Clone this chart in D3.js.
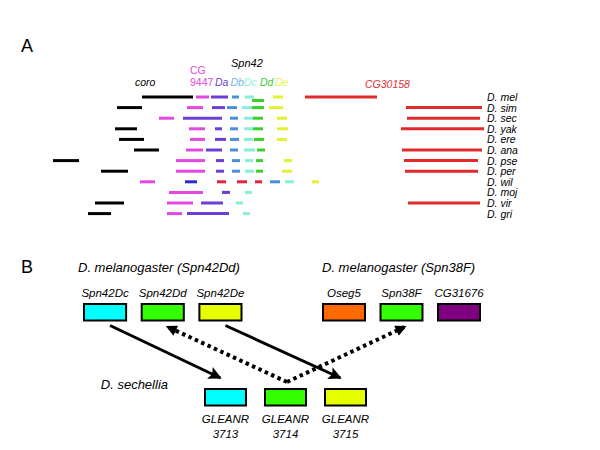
<!DOCTYPE html>
<html>
<head>
<meta charset="utf-8">
<script src="https://cdn.jsdelivr.net/npm/d3@7/dist/d3.min.js"></script>
<style>
  body { margin: 0; background: #fff; }
  text { font-family: "Liberation Sans", Arial, sans-serif; }
</style>
</head>
<body>
<div id="chart"></div>
<script>
// ---- Panel A data: gene segments per species, [species, start, end] in alignment units
const species = ["mel", "sim", "sec", "yak", "ere", "ana", "pse", "per", "wil", "moj", "vir", "gri"];

const coro = [["mel",102,153],["sim",77,102],["yak",75,97],["ere",79,104],["ana",94,119],
  ["pse",13,39],["per",61,88],["vir",55,84],["gri",48,71]];
const cg9447 = [["mel",156,169],["sim",147,163],["sec",119,134],["yak",149,165],["ere",150,165],
  ["ana",146,163],["pse",136,165],["per",136,165],["wil",100,115],["moj",129,163],["vir",127,153],["gri",127,142]];
const spn42Da = [["mel",171,188],["sim",172,185],["sec",143,182],["yak",175,182],["ere",175,186],
  ["ana",166,182],["pse",176,184],["per",176,184],["moj",182,190],["vir",161,183],["gri",147,189]];
const spn42Db = [["mel",192,199],["sim",187,197],["sec",190,198],["yak",190,198],["ere",190,199],
  ["ana",190,198],["pse",192,200],["per",192,200],["wil",230,240]];
const spn42Dc = [["mel",205,214],["sim",202,212],["sec",204,213],["yak",204,213],["ere",204,213],
  ["ana",204,215],["pse",205,213],["per",205,214],["wil",245,254],["moj",205,212],["vir",196,203],["gri",203,210]];
const spn42Dd = [["mel",212,224],["sim",212,224],["sec",213,223],["yak",213,223],["ere",214,224],
  ["ana",217,225],["pse",216,223],["per",216,223]];
const spn42De = [["mel",233,243],["sim",229,243],["sec",237,247],["yak",237,248],["ere",237,247],
  ["pse",244,252],["per",242,252],["wil",272,279]];
const cg30158 = [["mel",265,337],["sim",366,442],["sec",367,440],["yak",361,444],["ana",362,442],
  ["pse",364,438],["per",365,438],["vir",368,440]];
const wilDa = [["wil",145,157]];
const wilOther = [["wil",177,186],["wil",197,207],["wil",215,222]];

const geneColor = {
  coro: "#000000", cg9447: "#e448e0", spn42Da: "#6b3fd6", spn42Db: "#4b8fdc",
  spn42Dc: "#86efd9", spn42Dd: "#3ccf2c", spn42De: "#e6f032", cg30158: "#e12a2a",
  wilDa: "#2b2bc8", wilOther: "#e0243e"
};
const genes = { coro, cg9447, spn42Da, spn42Db, spn42Dc, spn42Dd, spn42De, cg30158, wilDa, wilOther };

// ---- Panel B data
const melSpn42 = ["Spn42Dc", "Spn42Dd", "Spn42De"];
const melSpn38 = ["Oseg5", "Spn38F", "CG31676"];
const secGenes = ["GLEANR 3713", "GLEANR 3714", "GLEANR 3715"];
const boxFill = {
  "Spn42Dc": "#00ffff", "Spn42Dd": "#33ff00", "Spn42De": "#e6ff00",
  "Oseg5": "#ff6a00", "Spn38F": "#33ff00", "CG31676": "#7f007f",
  "GLEANR 3713": "#00ffff", "GLEANR 3714": "#33ff00", "GLEANR 3715": "#e6ff00"
};
const links = [
  ["Spn42Dc", "GLEANR 3713", "solid"],
  ["Spn42De", "GLEANR 3715", "solid"],
  ["GLEANR 3714", "Spn42Dd", "dotted"],
  ["GLEANR 3714", "Spn38F", "dotted"]
];

const svg = d3.select("#chart").append("svg")
  .attr("width", 600).attr("height", 450);

// ---------------- Panel A ----------------
const x = d3.scaleLinear().domain([0, 460]).range([40, 500]);
const y = d3.scalePoint().domain(species).range([97, 213.6]);

svg.append("text").attr("x", 21).attr("y", 52).attr("font-size", 18).text("A");

// flatten segments, push overlapping ones to a second lane
let segs = [];
Object.keys(genes).forEach(g => genes[g].forEach(d => segs.push({ gene: g, sp: d[0], x0: d[1], x1: d[2] })));
const lastEnd = {};
segs.sort((a, b) => a.x0 - b.x0).forEach(s => {
  s.lane = (lastEnd[s.sp] !== undefined && lastEnd[s.sp] - s.x0 > 1) ? 1 : 0;
  lastEnd[s.sp] = Math.max(lastEnd[s.sp] || -Infinity, s.x1);
});

svg.append("g").selectAll("line")
  .data(segs)
  .enter().append("line")
  .attr("x1", d => x(d.x0))
  .attr("x2", d => x(d.x1))
  .attr("y1", d => y(d.sp) + d.lane * 3.5)
  .attr("y2", d => y(d.sp) + d.lane * 3.5)
  .attr("stroke", d => geneColor[d.gene])
  .attr("stroke-width", 3);

svg.append("g").selectAll("text")
  .data(species)
  .enter().append("text")
  .attr("x", 487)
  .attr("y", d => y(d) + 4)
  .attr("font-size", 10.5)
  .attr("font-style", "italic")
  .text(d => "D. " + d);

// gene headers
const hdr = svg.append("g").attr("font-size", 10.5);
hdr.append("text").attr("x", 135).attr("y", 86).attr("font-style", "italic").text("coro");
hdr.append("text").attr("x", 231).attr("y", 67).attr("font-style", "italic").attr("font-size", 11).text("Spn42");
hdr.append("text").attr("x", 190).attr("y", 74).attr("fill", "#e448e0").text("CG");
hdr.append("text").attr("x", 190).attr("y", 86).attr("fill", "#e448e0").text("9447");
[["Da", 215, "#6b3fd6"], ["Db", 230.5, "#73b2ea"], ["Dc", 244, "#8ff0dc"], ["Dd", 260, "#3cc83c"], ["De", 275, "#e8f04a"]]
  .forEach(h => hdr.append("text").attr("x", h[1]).attr("y", 86).attr("font-style", "italic").attr("fill", h[2]).text(h[0]));
hdr.append("text").attr("x", 365).attr("y", 88).attr("font-style", "italic").attr("fill", "#e03030").text("CG30158");

// ---------------- Panel B ----------------
svg.append("text").attr("x", 21).attr("y", 273).attr("font-size", 18).text("B");

const bandL = d3.scaleBand().domain(melSpn42).range([84, 241.5]).paddingInner(0.27);
const bandR = d3.scaleBand().domain(melSpn38).range([323, 480]).paddingInner(0.27);
const bandS = d3.scaleBand().domain(secGenes).range([205, 366]).paddingInner(0.317);
const topY = 304, botY = 389, boxH = 16.5;

const boxes = [];
melSpn42.forEach(g => boxes.push({ name: g, x: bandL(g), w: bandL.bandwidth(), y: topY, row: "top" }));
melSpn38.forEach(g => boxes.push({ name: g, x: bandR(g), w: bandR.bandwidth(), y: topY, row: "top" }));
secGenes.forEach(g => boxes.push({ name: g, x: bandS(g), w: bandS.bandwidth(), y: botY, row: "bottom" }));
const boxBy = {};
boxes.forEach(b => boxBy[b.name] = b);

svg.append("text").attr("x", 78).attr("y", 272).attr("font-size", 13).attr("font-style", "italic")
  .text("D. melanogaster (Spn42Dd)");
svg.append("text").attr("x", 322).attr("y", 272).attr("font-size", 13).attr("font-style", "italic")
  .text("D. melanogaster (Spn38F)");
svg.append("text").attr("x", 168).attr("y", 389).attr("font-size", 13).attr("font-style", "italic")
  .attr("text-anchor", "end").text("D. sechellia");

svg.append("g").selectAll("rect")
  .data(boxes)
  .enter().append("rect")
  .attr("x", d => d.x).attr("y", d => d.y)
  .attr("width", d => d.w).attr("height", boxH)
  .attr("fill", d => boxFill[d.name])
  .attr("stroke", "#000").attr("stroke-width", 2);

// box labels
const lbl = svg.append("g").attr("font-size", 11.5).attr("font-style", "italic").attr("text-anchor", "middle");
boxes.filter(b => b.row === "top").forEach(b =>
  lbl.append("text").attr("x", b.x + b.w / 2).attr("y", 297).text(b.name));
boxes.filter(b => b.row === "bottom").forEach(b => {
  const parts = b.name.split(" ");
  lbl.append("text").attr("x", b.x + b.w / 2).attr("y", 423).text(parts[0]);
  lbl.append("text").attr("x", b.x + b.w / 2).attr("y", 438).text(parts[1]);
});

// arrowheads
const defs = svg.append("defs");
defs.append("marker").attr("id", "headSolid")
  .attr("viewBox", "0 0 10 10").attr("refX", 9).attr("refY", 5)
  .attr("markerUnits", "userSpaceOnUse").attr("markerWidth", 14).attr("markerHeight", 13)
  .attr("orient", "auto")
  .append("path").attr("d", "M0,0 L10,5 L0,10 L2,5 z").attr("fill", "#000");
defs.append("marker").attr("id", "headDot")
  .attr("viewBox", "0 0 10 10").attr("refX", 9).attr("refY", 5)
  .attr("markerUnits", "userSpaceOnUse").attr("markerWidth", 12).attr("markerHeight", 11)
  .attr("orient", "auto")
  .append("path").attr("d", "M0,0 L10,5 L0,10 z").attr("fill", "#000");

function anchor(b, isStart) {
  const cx = b.x + b.w / 2;
  if (b.row === "top") return isStart ? [cx + 5, b.y + boxH + 5] : [cx + 4, b.y + boxH + 6];
  return isStart ? [cx + 1.5, b.y - 7] : [cx - 5, b.y - 11];
}

svg.append("g").selectAll("line")
  .data(links)
  .enter().append("line")
  .each(function (d) {
    const p0 = anchor(boxBy[d[0]], true), p1 = anchor(boxBy[d[1]], false);
    d3.select(this).attr("x1", p0[0]).attr("y1", p0[1]).attr("x2", p1[0]).attr("y2", p1[1]);
  })
  .attr("stroke", "#000")
  .attr("stroke-width", d => d[2] === "solid" ? 3 : 4)
  .attr("stroke-dasharray", d => d[2] === "solid" ? null : "3.5,3.5")
  .attr("marker-end", d => d[2] === "solid" ? "url(#headSolid)" : "url(#headDot)");
</script>
</body>
</html>
